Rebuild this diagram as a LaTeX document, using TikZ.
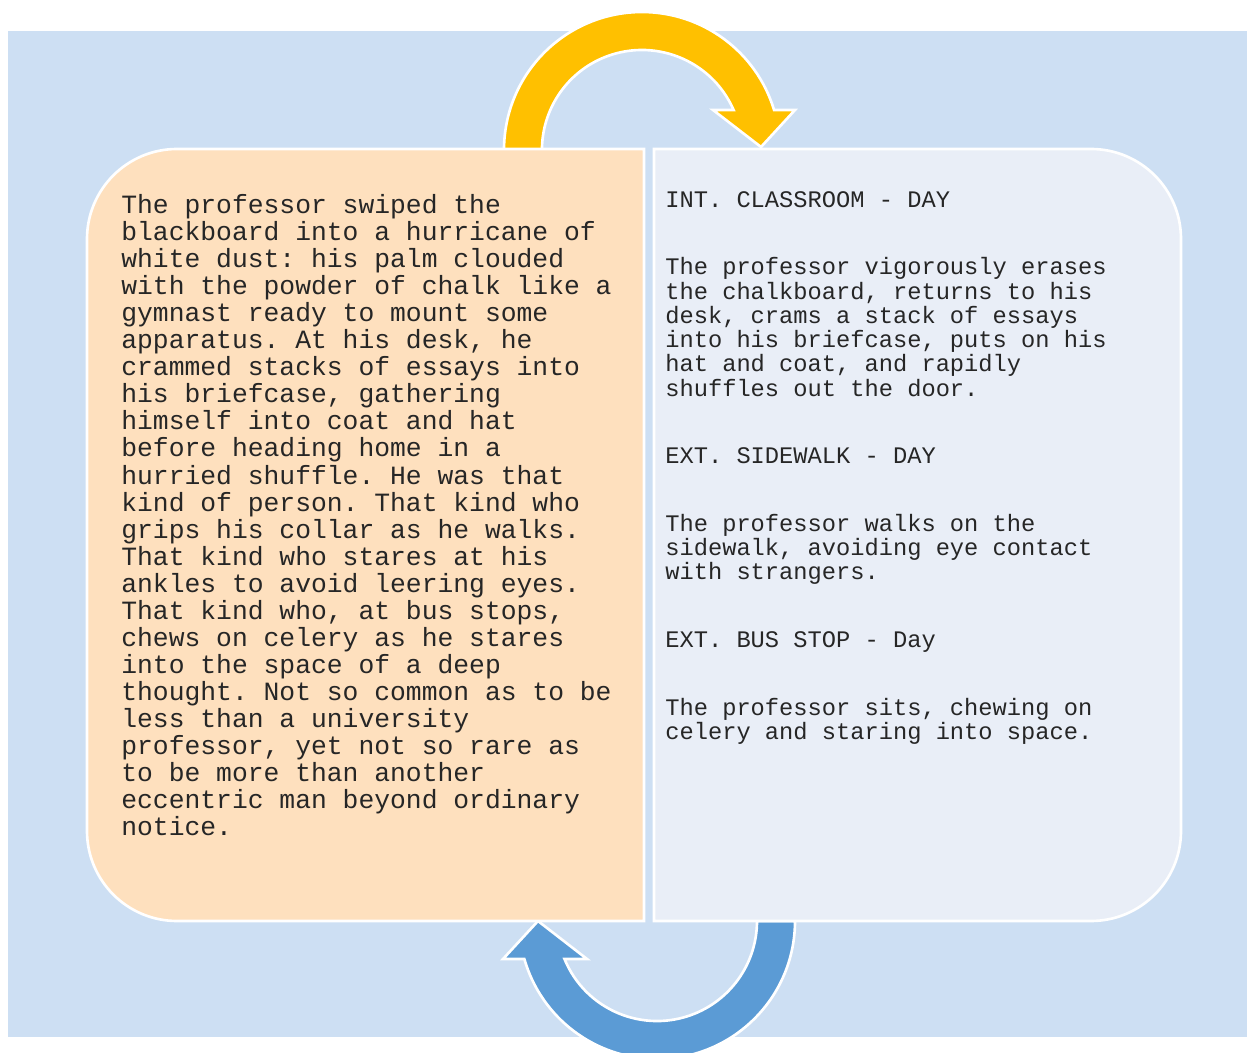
\documentclass[tikz,border=0pt]{standalone}
\usepackage{fontspec}
\setmonofont{Liberation Mono}
\definecolor{skyback}{HTML}{CDDFF3}
\definecolor{peach}{HTML}{FEE0BE}
\definecolor{mist}{HTML}{E9EEF7}
\definecolor{gold}{HTML}{FFC000}
\definecolor{steel}{HTML}{5B9BD5}
\begin{document}
\begin{tikzpicture}[x=0.02cm, y=0.02cm,
    boxline/.style={draw=white, line width=1.5pt},
    prose/.style={anchor=north west, inner sep=0pt, align=left, text=black!85,
      font=\ttfamily\fontsize{15}{15.4}\selectfont},
    script/.style={anchor=north west, inner sep=0pt, align=left, text=black!85,
      font=\ttfamily\fontsize{13.5}{13.8}\selectfont}]
\useasboundingbox (0,0) rectangle (1247,1052);
\fill[skyback] (8,15) rectangle (1247,1021);

\coordinate (tc) at (642,902);
\coordinate (bc) at (657,131);

% top arrow
\filldraw[boxline, fill=gold] (504,902) arc (180:16.85:138) -- (795,942) -- (761,905)
  -- (713,942) -- (733.6,942) arc (23.58:180:100) -- cycle;
% bottom arrow
\filldraw[boxline, fill=steel] (795,131) arc (0:-164:138) -- (503,93) -- (538,131)
  -- (587,93) -- (564.5,93) arc (-157.67:0:100) -- cycle;

\filldraw[boxline, fill=peach] (644,131) -- (177,131) arc (270:180:90) -- (87,813)
  arc (180:90:90) -- (644,903) -- cycle;
\filldraw[boxline, fill=mist] (654,131) -- (1091,131) arc (-90:0:90) -- (1181,813)
  arc (0:90:90) -- (654,903) -- cycle;

\node[prose] (story) at (121,858) {The professor swiped the\\
blackboard into a hurricane of\\
white dust: his palm clouded\\
with the powder of chalk like a\\
gymnast ready to mount some\\
apparatus. At his desk, he\\
crammed stacks of essays into\\
his briefcase, gathering\\
himself into coat and hat\\
before heading home in a\\
hurried shuffle. He was that\\
kind of person. That kind who\\
grips his collar as he walks.\\
That kind who stares at his\\
ankles to avoid leering eyes.\\
That kind who, at bus stops,\\
chews on celery as he stares\\
into the space of a deep\\
thought. Not so common as to be\\
less than a university\\
professor, yet not so rare as\\
to be more than another\\
eccentric man beyond ordinary\\
notice.};

\node[script] (scenes) at (665,861) {INT. CLASSROOM - DAY\\[24.7pt]
The professor vigorously erases\\
the chalkboard, returns to his\\
desk, crams a stack of essays\\
into his briefcase, puts on his\\
hat and coat, and rapidly\\
shuffles out the door.\\[24.7pt]
EXT. SIDEWALK - DAY\\[24.7pt]
The professor walks on the\\
sidewalk, avoiding eye contact\\
with strangers.\\[24.7pt]
EXT. BUS STOP - Day\\[24.7pt]
The professor sits, chewing on\\
celery and staring into space.};
\end{tikzpicture}
\end{document}
